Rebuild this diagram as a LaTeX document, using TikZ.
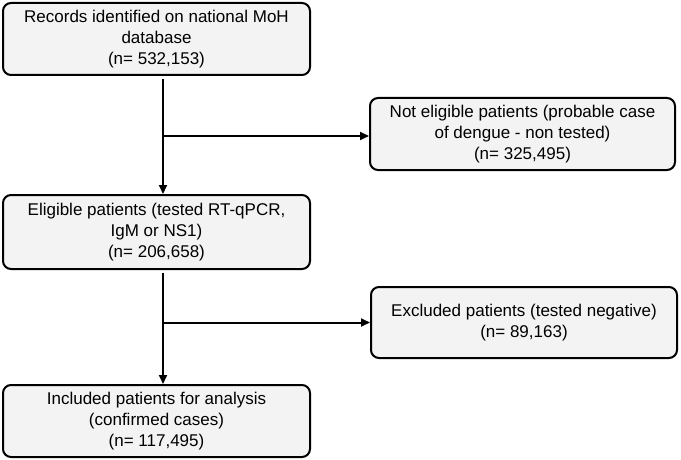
\documentclass[tikz,border=0pt]{standalone}
\usepackage{fontspec}
\setmainfont{Liberation Sans}
\usetikzlibrary{arrows.meta}
\definecolor{boxfill}{HTML}{F3F3F3}
\begin{document}
\begin{tikzpicture}[x=1pt,y=-1pt,
  flowbox/.style={draw=black,line width=2pt,fill=boxfill,rounded corners=8pt,
    font=\fontsize{17}{21}\selectfont,align=center,inner sep=0pt},
  conn/.style={line width=2pt,-{Triangle[length=9pt,width=8pt]}}]
\useasboundingbox (0,0) rectangle (681,460);
\node[flowbox,minimum width=307pt,minimum height=72pt] (rec) at (156.5,39) {Records identified on national MoH\\database\\(n= 532,153)};
\node[flowbox,minimum width=305pt,minimum height=72pt] (ne) at (522.5,134) {Not eligible patients (probable case\\of dengue - non tested)\\(n= 325,495)};
\node[flowbox,minimum width=307pt,minimum height=74pt] (el) at (156.5,232) {Eligible patients (tested RT-qPCR,\\IgM or NS1)\\(n= 206,658)};
\node[flowbox,minimum width=306pt,minimum height=71pt] (ex) at (524,322.5) {Excluded patients (tested negative)\\(n= 89,163)};
\node[flowbox,minimum width=307pt,minimum height=72pt] (inc) at (156.5,421) {Included patients for analysis\\(confirmed cases)\\(n= 117,495)};
\coordinate (b1) at (163,136);
\coordinate (b2) at (163,322.5);
\draw[conn] (rec.south -| b1) ++(0,3) -- (el.north -| b1);
\draw[conn] (b1) -- (ne.west |- b1);
\draw[conn] (el.south -| b2) ++(0,3) -- (inc.north -| b2);
\draw[conn] (b2) -- (ex.west |- b2);
\end{tikzpicture}
\end{document}
